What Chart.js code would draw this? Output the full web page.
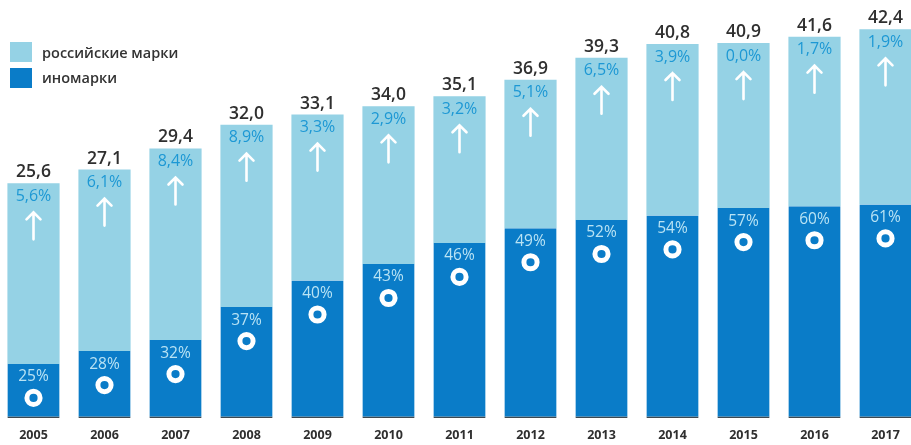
<!DOCTYPE html>
<html>
<head>
<meta charset="utf-8">
<script src="https://cdn.jsdelivr.net/npm/chart.js@4/dist/chart.umd.min.js"></script>
<style>
  html, body { margin: 0; padding: 0; background: #ffffff; overflow: hidden; }
  #wrap { position: absolute; left: -2px; top: 0; width: 923px; height: 445px; }
</style>
</head>
<body>
<div id="wrap"><canvas id="c"></canvas></div>
<script>
const years = ['2005','2006','2007','2008','2009','2010','2011','2012','2013','2014','2015','2016','2017'];
const totals = [25.6, 27.1, 29.4, 32.0, 33.1, 34.0, 35.1, 36.9, 39.3, 40.8, 40.9, 41.6, 42.4];
const foreign = [5.9, 7.3, 8.5, 12.1, 15.0, 16.8, 19.1, 20.7, 21.6, 22.1, 22.9, 23.1, 23.3];
const russian = [19.7, 19.8, 20.9, 19.9, 18.1, 17.2, 16.0, 16.2, 17.7, 18.7, 18.0, 18.5, 19.1];
const growth = ['5,6%', '6,1%', '8,4%', '8,9%', '3,3%', '2,9%', '3,2%', '5,1%', '6,5%', '3,9%', '0,0%', '1,7%', '1,9%'];
const shares = ['25%', '28%', '32%', '37%', '40%', '43%', '46%', '49%', '52%', '54%', '57%', '60%', '61%'];
const totalLabels = ['25,6', '27,1', '29,4', '32,0', '33,1', '34,0', '35,1', '36,9', '39,3', '40,8', '40,9', '41,6', '42,4'];
const legendNames = ['российские марки', 'иномарки'];

const LIGHT = '#95d2e5';
const DARK = '#0a7cc8';

const annotate = {
  id: 'annotate',
  afterDatasetsDraw(chart) {
    const ctx = chart.ctx;
    const mF = chart.getDatasetMeta(0).data;
    const mR = chart.getDatasetMeta(1).data;
    ctx.save();
    ctx.textAlign = 'center';
    ctx.textBaseline = 'middle';
    for (let i = 0; i < years.length; i++) {
      const x = mR[i].x;
      const top = mR[i].y;
      const dTop = mF[i].y;
      // total label
      ctx.fillStyle = '#2f2f2f';
      ctx.font = '600 17.5px "Open Sans", sans-serif';
      ctx.fillText(totalLabels[i], x, top - 11);
      // growth label
      ctx.fillStyle = '#1d98d4';
      ctx.font = '500 16px "Open Sans", sans-serif';
      ctx.fillText(growth[i], x, top + 13);
      // arrow
      ctx.strokeStyle = '#ffffff';
      ctx.lineWidth = 2.6;
      ctx.lineCap = 'round';
      ctx.beginPath();
      ctx.moveTo(x, top + 29);
      ctx.lineTo(x, top + 56);
      ctx.moveTo(x - 7, top + 36);
      ctx.lineTo(x, top + 29);
      ctx.lineTo(x + 7, top + 36);
      ctx.stroke();
      // share label
      ctx.fillStyle = '#b9e3f4';
      ctx.font = '400 15.5px "Open Sans", sans-serif';
      ctx.fillText(shares[i], x, dTop + 13);
      // donut
      ctx.strokeStyle = '#ffffff';
      ctx.lineWidth = 5;
      ctx.lineCap = 'butt';
      ctx.beginPath();
      ctx.arc(x, dTop + 34, 6.6, 0, Math.PI * 2);
      ctx.stroke();
    }
    // legend
    ctx.textAlign = 'left';
    ctx.fillStyle = LIGHT;
    ctx.fillRect(12, 42, 22, 20);
    ctx.fillStyle = DARK;
    ctx.fillRect(12, 68, 22, 20);
    ctx.fillStyle = '#333333';
    ctx.font = '600 14.5px "Open Sans", sans-serif';
    ctx.fillText(legendNames[0], 44, 54);
    ctx.fillText(legendNames[1], 44, 79);
    ctx.restore();
  }
};

new Chart(document.getElementById('c'), {
  type: 'bar',
  data: {
    labels: years,
    datasets: [
      {
        label: legendNames[1],
        data: foreign,
        backgroundColor: DARK,
        borderColor: '#3d4850',
        borderWidth: { top: 0, left: 0, right: 0, bottom: 1.5 },
        borderSkipped: false,
        barPercentage: 0.735,
        categoryPercentage: 1.0
      },
      {
        label: legendNames[0],
        data: russian,
        backgroundColor: LIGHT,
        borderWidth: 0,
        barPercentage: 0.735,
        categoryPercentage: 1.0
      }
    ]
  },
  options: {
    responsive: true,
    maintainAspectRatio: false,
    animation: false,
    layout: { padding: { top: 0, bottom: 0, left: 0, right: 0 } },
    plugins: { legend: { display: false }, tooltip: { enabled: false } },
    scales: {
      x: {
        stacked: true,
        grid: { display: false },
        border: { display: false },
        ticks: {
          color: '#2f2f2f',
          font: { family: '"Open Sans", sans-serif', size: 12.5, weight: '700' },
          padding: 2,
          maxRotation: 0
        }
      },
      y: {
        stacked: true,
        display: false,
        min: 0,
        max: 45.6
      }
    }
  },
  plugins: [annotate]
});
</script>
</body>
</html>
